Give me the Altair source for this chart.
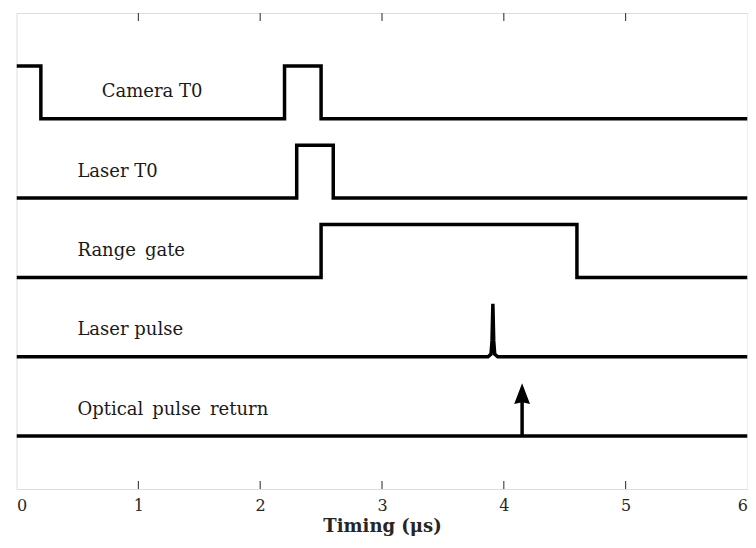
import altair as alt
import pandas as pd

# ---- data ----
camera_x = [0, 0.2, 0.2, 2.2, 2.2, 2.5, 2.5, 6]
camera_y = [8, 8, 7, 7, 8, 8, 7, 7]
laser_t0_x = [0, 2.3, 2.3, 2.6, 2.6, 6]
laser_t0_y = [5.5, 5.5, 6.5, 6.5, 5.5, 5.5]
range_x = [0, 2.5, 2.5, 4.6, 4.6, 6]
range_y = [4, 4, 5, 5, 4, 4]
pulse_x = [0, 3.87, 3.895, 3.903, 3.91, 3.917, 3.925, 3.95, 6]
pulse_y = [2.5, 2.5, 2.55, 2.8, 3.5, 2.8, 2.55, 2.5, 2.5]
optical_x = [0, 6]
optical_y = [1, 1]
arrow_x = [4.15, 4.15]
arrow_y = [1, 1.8]
arrow_tip = (4.15, 2.0)

label_text = ["Camera T0", "Laser T0", "Range\u2002gate", "Laser pulse", "Optical\u2002pulse\u2002return"]
label_x = [0.7, 0.5, 0.5, 0.5, 0.5]
label_y = [7.5, 6.0, 4.5, 3.0, 1.5]

x_ticks = [0, 1, 2, 3, 4, 5, 6]
inner_ticks = [1, 2, 3, 4, 5]

W, H = 731, 476
FONT = "DejaVu Serif"

rows = []
for name, xs, ys in [("camera", camera_x, camera_y), ("laser_t0", laser_t0_x, laser_t0_y),
                     ("range", range_x, range_y), ("pulse", pulse_x, pulse_y),
                     ("optical", optical_x, optical_y), ("arrow", arrow_x, arrow_y)]:
    for i, (xv, yv) in enumerate(zip(xs, ys)):
        rows.append({"series": name, "idx": i, "x": xv, "y": yv})
lines_df = pd.DataFrame(rows)

xscale = alt.Scale(domain=[0, 6], nice=False, zero=False)
yscale = alt.Scale(domain=[0, 9], nice=False, zero=False)

xaxis = alt.Axis(values=x_ticks, format="d", ticks=False, domain=False, grid=False,
                 labelFont=FONT, labelFontSize=16, labelColor="#262626", labelPadding=8,
                 title="Timing (μs)", titleFont=FONT, titleFontSize=18, titleFontWeight="bold",
                 titleColor="#262626", titleBaseline="alphabetic", titleY=42)

lines = alt.Chart(lines_df).mark_line(color="black", strokeWidth=3.5, strokeJoin="miter",
                                       strokeCap="butt", clip=True).encode(
    x=alt.X("x:Q", scale=xscale, axis=xaxis),
    y=alt.Y("y:Q", scale=yscale, axis=None),
    detail="series:N",
    order="idx:Q",
)

head_df = pd.DataFrame({"x": [arrow_tip[0]], "y": [arrow_tip[1]]})
head = alt.Chart(head_df).mark_point(
    shape="M0,0L0.72,1.9L0,1.72L-0.72,1.9Z", size=484, filled=True, color="black", opacity=1
).encode(x=alt.X("x:Q", scale=xscale), y=alt.Y("y:Q", scale=yscale))

lab_df = pd.DataFrame({"t": label_text, "x": label_x, "y": label_y})
labels = alt.Chart(lab_df).mark_text(align="left", baseline="middle", font=FONT,
                                     fontSize=18, color="#1a1a1a").encode(
    x=alt.X("x:Q", scale=xscale), y=alt.Y("y:Q", scale=yscale), text="t:N")

tick_df = pd.DataFrame({"x": inner_ticks})
bottom_ticks = alt.Chart(tick_df).mark_rule(color="#262626", strokeWidth=1).encode(
    x=alt.X("x:Q", scale=xscale), y=alt.value(H), y2=alt.value(H - 8))
top_ticks = alt.Chart(tick_df).mark_rule(color="#262626", strokeWidth=1).encode(
    x=alt.X("x:Q", scale=xscale), y=alt.value(0), y2=alt.value(8))

chart = alt.layer(bottom_ticks, top_ticks, lines, head, labels).properties(
    width=W, height=H,
    autosize=alt.AutoSizeParams(type="none"),
    padding={"left": 8.5, "top": 5, "right": 0.5, "bottom": 47},
).configure_view(stroke="#262626", strokeWidth=1).configure(background="white")

chart.save("out.html", embed_options={"renderer": "svg", "actions": False})
